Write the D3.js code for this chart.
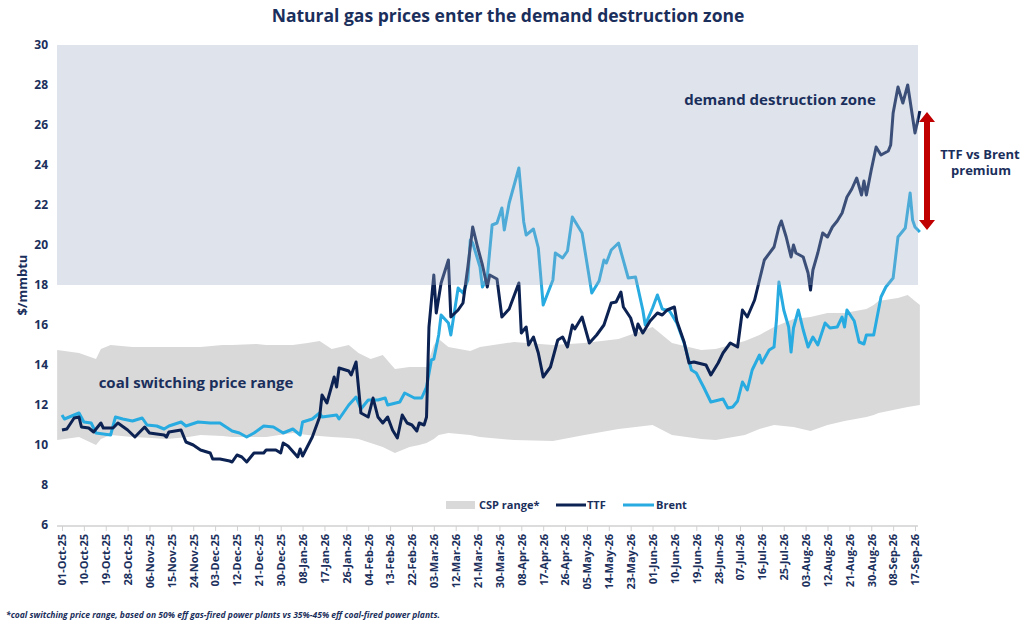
<!DOCTYPE html>
<html>
<head>
<meta charset="utf-8">
<script src="https://cdn.jsdelivr.net/npm/d3@7"></script>
<style>
  body { margin: 0; background: #fff; }
  svg text { font-family: "Open Sans", sans-serif; font-weight: 700; fill: #1b2f5c; }
</style>
</head>
<body>
<svg id="chart" width="1024" height="622"></svg>
<script>
// days counted from 01-Oct-2025
const ttfDays = [0,2,5,7,8,11,13,16,17,21,23,27,30,34,36,42,43,44,49,51,54,57,61,62,65,69,70,72,74,76,79,83,84,88,90,91,93,97,98,99,103,106,107,109,112,113,114,118,119,121,123,126,128,130,132,134,136,138,140,142,144,146,147,149,150,151,153,154,156,159,160,163,165,167,169,171,173,175,176,179,181,184,188,189,191,192,194,196,198,201,204,206,208,210,211,214,217,220,223,226,228,230,231,234,236,237,239,242,245,247,249,252,253,256,258,260,265,267,270,272,275,278,280,282,285,287,289,293,295,296,298,300,301,302,305,307,308,309,311,313,315,317,319,321,323,325,327,329,330,331,333,335,337,340,341,342,344,346,348,351,353];
const ttfValues = [10.75,10.8,11.35,11.4,10.9,10.85,10.65,11.1,10.85,10.85,11.1,10.75,10.4,10.9,10.6,10.5,10.4,10.65,10.75,10.15,10.0,9.75,9.6,9.3,9.3,9.2,9.15,9.5,9.4,9.15,9.6,9.6,9.75,9.75,9.6,10.1,9.95,9.4,9.8,9.45,10.4,11.4,12.5,12.1,13.4,12.9,13.85,13.7,13.5,14.15,11.6,11.4,12.35,11.4,11.1,11.4,10.75,10.35,11.5,11.1,11.0,10.7,11.1,11.0,11.4,15.9,18.5,16.6,18.1,19.25,16.4,16.75,17.1,18.9,20.9,19.9,19.0,17.9,18.5,18.3,16.4,16.8,18.1,15.6,15.9,15.0,15.4,14.6,13.4,13.9,15.25,15.4,14.9,16.0,15.8,16.4,15.1,15.5,16.0,17.1,17.15,17.65,16.9,16.35,15.5,16.05,15.6,16.2,16.6,16.5,16.75,16.9,16.2,15.15,14.1,14.15,14.0,13.5,14.1,14.6,15.1,14.9,16.75,16.4,17.25,18.25,19.25,19.9,20.9,21.2,20.4,19.4,20.0,19.6,19.4,18.6,17.75,18.75,19.6,20.6,20.4,20.9,21.2,21.6,22.4,22.8,23.35,22.5,23.2,22.5,23.75,24.9,24.5,24.7,25.0,26.6,27.9,27.1,28.0,25.6,26.7];

const brentDays = [0,1,7,9,12,14,20,22,25,29,33,35,39,42,44,49,51,56,61,65,70,73,76,79,83,87,91,95,98,99,103,106,107,110,113,114,118,121,123,126,130,133,134,139,141,145,148,150,152,153,155,156,159,160,163,165,167,168,169,172,173,175,177,179,181,182,184,188,190,191,194,196,198,202,203,206,208,210,214,218,221,223,224,226,229,233,236,239,240,243,245,247,250,253,256,259,261,264,267,272,274,276,278,280,282,284,287,288,291,293,294,295,297,299,300,301,303,305,307,309,311,314,316,319,321,322,323,326,328,330,331,334,337,339,342,344,347,349,350,351,353];
const brentValues = [11.5,11.3,11.6,11.15,11.1,10.6,10.5,11.4,11.3,11.2,11.35,11.0,10.95,10.8,10.95,11.15,10.95,11.15,11.1,11.1,10.7,10.6,10.4,10.6,10.95,10.9,10.6,10.8,10.5,11.15,11.3,11.6,11.4,11.45,11.5,11.3,12.0,12.4,11.8,12.25,12.25,12.35,12.0,12.15,12.6,12.35,12.35,12.9,14.25,14.3,15.5,16.5,16.1,15.5,17.85,17.6,18.25,20.25,20.1,18.9,17.9,18.4,21.0,21.1,21.85,20.75,22.1,23.85,21.15,20.5,20.8,19.85,17.0,18.25,19.6,19.35,19.7,21.4,20.6,17.6,18.2,19.25,19.1,19.75,20.1,18.35,18.4,16.75,16.0,16.85,17.5,16.8,16.7,16.1,15.1,13.75,13.6,12.9,12.15,12.3,11.85,11.9,12.2,13.15,12.75,13.75,14.5,14.1,14.75,14.9,16.25,18.15,16.75,15.9,14.65,15.85,16.75,15.75,14.9,15.4,15.0,16.1,15.85,15.9,16.4,15.9,16.75,16.2,15.15,15.05,15.5,15.5,17.4,17.9,18.35,20.4,20.85,22.6,21.25,20.9,20.65];

const cspDays = [-2,7,14,16,20,29,37,43,52,57,66,70,80,84,95,101,106,111,118,122,127,132,137,143,147,150,153,155,159,168,172,186,202,215,229,243,251,263,269,281,287,293,301,308,315,322,331,334,336,344,348,353];
const cspHigh = [14.75,14.6,14.3,14.8,15.0,14.9,14.9,14.9,14.9,14.9,15.0,15.0,15.05,15.0,15.0,15.1,15.2,14.8,15.0,14.6,14.3,14.5,13.8,13.9,13.9,13.9,15.0,15.3,14.9,14.7,14.9,15.15,15.0,15.1,15.3,15.9,15.1,14.75,14.8,15.2,15.5,15.9,16.3,16.4,16.6,16.6,16.8,17.0,17.2,17.35,17.5,17.0];
const cspLow = [10.25,10.4,10.0,10.3,10.5,10.4,10.35,10.3,10.4,10.5,10.45,10.4,10.4,10.4,10.6,10.5,10.45,10.4,10.35,10.3,10.1,9.9,9.6,9.9,10.0,10.1,10.3,10.5,10.6,10.5,10.4,10.25,10.2,10.5,10.8,11.0,10.5,10.3,10.25,10.5,10.8,11.0,10.9,10.7,11.0,11.2,11.4,11.5,11.6,11.8,11.9,12.0];

const yTicks = [6, 8, 10, 12, 14, 16, 18, 20, 22, 24, 26, 28, 30];
const zoneFloor = 18;

const start = new Date(Date.UTC(2025, 9, 1));
const toDate = d => d3.utcDay.offset(start, d);
const tickDates = d3.range(0, 352, 9).map(toDate);

const svg = d3.select("#chart");
const plotLeft = 57, plotRight = 918, plotTop = 45, plotBottom = 525;

const x = d3.scaleUtc().domain([toDate(0), toDate(351)]).range([62, 915]);
const y = d3.scaleLinear().domain([6, 30]).range([plotBottom, plotTop]);

svg.append("text").attr("x", 508).attr("y", 22).attr("text-anchor", "middle")
  .style("font-size", "17.5px").text("Natural gas prices enter the demand destruction zone");

// CSP band
const band = cspDays.map((d, i) => ({ d, hi: cspHigh[i], lo: cspLow[i] }));
svg.append("path").datum(band)
  .attr("fill", "#d9d9d9")
  .attr("d", d3.area().x(p => x(toDate(p.d))).y0(p => y(p.lo)).y1(p => y(p.hi)));

const line = d3.line().x(p => x(toDate(p.d))).y(p => y(p.v));
const ttf = ttfDays.map((d, i) => ({ d, v: ttfValues[i] }));
const brent = brentDays.map((d, i) => ({ d, v: brentValues[i] }));

svg.append("path").datum(brent).attr("fill", "none").attr("stroke", "#27abe0")
  .attr("stroke-width", 3).attr("stroke-linejoin", "round").attr("d", line);
svg.append("path").datum(ttf).attr("fill", "none").attr("stroke", "#0c2252")
  .attr("stroke-width", 3).attr("stroke-linejoin", "round").attr("d", line);

// demand destruction zone overlay
svg.append("rect").attr("x", plotLeft).attr("y", y(30)).attr("width", plotRight - plotLeft)
  .attr("height", y(zoneFloor) - y(30))
  .attr("fill", "rgb(158,173,198)").attr("opacity", 0.33);

// y axis
const yAxis = svg.append("g").attr("transform", `translate(${plotLeft},0)`)
  .call(d3.axisLeft(y).tickValues(yTicks).tickSize(0).tickPadding(9));
yAxis.select(".domain").remove();
yAxis.selectAll("text").style("font-size", "12px").style("font-family", "Open Sans").style("font-weight", 700).attr("fill", "#1b2f5c");

svg.append("text").attr("transform", `translate(27,${y(18)}) rotate(-90)`)
  .attr("text-anchor", "middle").style("font-size", "13px").text("$/mmbtu");

// x axis
const xAxis = svg.append("g").attr("transform", `translate(0,${plotBottom + 1})`)
  .call(d3.axisBottom(x).tickValues(tickDates).tickSize(5).tickFormat(d3.utcFormat("%d-%b-%y")));
xAxis.select(".domain").attr("stroke", "#d0d0d0").attr("stroke-width", 1.5).attr("d", `M${plotLeft},0H${plotRight}`);
xAxis.selectAll(".tick line").attr("stroke", "#d0d0d0");
xAxis.selectAll("text")
  .attr("transform", "rotate(-90)").attr("text-anchor", "end")
  .attr("x", -8).attr("y", 0).attr("dy", "0.35em")
  .style("font-size", "11px").style("font-family", "Open Sans").style("font-weight", 700).attr("fill", "#1b2f5c");

// annotations
svg.append("text").attr("x", 780).attr("y", 105).attr("text-anchor", "middle")
  .style("font-size", "15px").text("demand destruction zone");
svg.append("text").attr("x", 196).attr("y", 388).attr("text-anchor", "middle")
  .style("font-size", "15px").text("coal switching price range");

// premium arrow
const ax = 927, ay1 = 112, ay2 = 230;
svg.append("line").attr("x1", ax).attr("x2", ax).attr("y1", ay1 + 8).attr("y2", ay2 - 8)
  .attr("stroke", "#c00000").attr("stroke-width", 6);
svg.append("path").attr("fill", "#c00000")
  .attr("d", `M${ax},${ay1}L${ax + 8},${ay1 + 10}L${ax - 8},${ay1 + 10}Z M${ax},${ay2}L${ax + 8},${ay2 - 10}L${ax - 8},${ay2 - 10}Z`);
svg.append("text").attr("x", 980).attr("y", 159).attr("text-anchor", "middle")
  .style("font-size", "13px").text("TTF vs Brent");
svg.append("text").attr("x", 981).attr("y", 175).attr("text-anchor", "middle")
  .style("font-size", "13px").text("premium");

// legend
const lg = svg.append("g").attr("transform", "translate(0,505)");
lg.append("rect").attr("x", 446).attr("y", -4).attr("width", 29).attr("height", 8).attr("fill", "#d9d9d9");
lg.append("text").attr("x", 479).attr("y", 4).style("font-size", "11px").text("CSP range*");
lg.append("line").attr("x1", 556).attr("x2", 586).attr("stroke", "#0c2252").attr("stroke-width", 3);
lg.append("text").attr("x", 587).attr("y", 4).style("font-size", "11px").text("TTF");
lg.append("line").attr("x1", 623).attr("x2", 654).attr("stroke", "#27abe0").attr("stroke-width", 3);
lg.append("text").attr("x", 656).attr("y", 4).style("font-size", "11px").text("Brent");

svg.append("text").attr("x", 6).attr("y", 618).style("font-size", "8.5px").style("font-style", "italic")
  .text("*coal switching price range, based on 50% eff gas-fired power plants vs 35%-45% eff coal-fired power plants.");
</script>
</body>
</html>
